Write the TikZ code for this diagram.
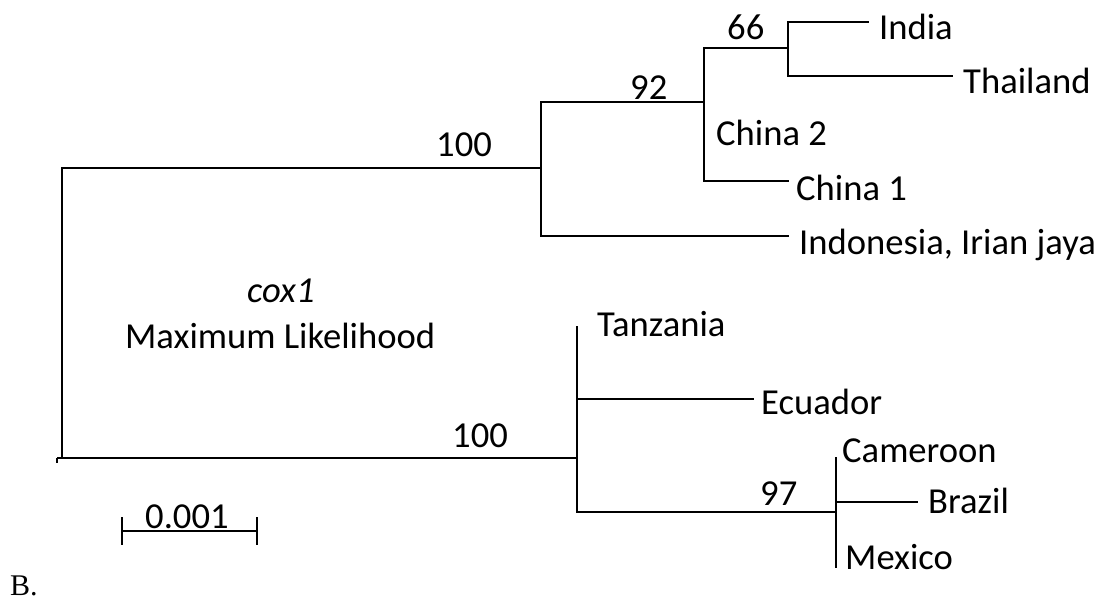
\documentclass[tikz,border=0pt]{standalone}
\usepackage{fontspec}
\setmainfont{Carlito}
\newfontfamily\serifB{Liberation Serif}
\begin{document}
\begin{tikzpicture}[x=1pt,y=-1pt,
  br/.style={line width=2.8pt,line cap=rect},
  lab/.style={anchor=base west,inner sep=0pt,font=\fontsize{36.6}{40}\selectfont},
  boot/.style={anchor=base west,inner sep=0pt,font=\fontsize{36.6}{40}\selectfont}]
\useasboundingbox (0,0) rectangle (1108,600);
% internal node coordinates
\coordinate (r1) at (62,168);
\coordinate (r2) at (62,458);
\coordinate (A1) at (541,102);
\coordinate (A2) at (541,168);
\coordinate (A3) at (541,236);
\coordinate (N92a) at (704,48);
\coordinate (N92b) at (704,102);
\coordinate (N92c) at (704,181);
\coordinate (N66a) at (788,22);
\coordinate (N66b) at (788,48);
\coordinate (N66c) at (788,76);
\coordinate (B1) at (577,327);
\coordinate (B2) at (577,399);
\coordinate (B3) at (577,458);
\coordinate (B4) at (577,512);
\coordinate (N97a) at (836,458);
\coordinate (N97b) at (836,502);
\coordinate (N97c) at (836,512);
\coordinate (N97d) at (836,567);
% tips
\coordinate (tIndia) at (868,22);
\coordinate (tThai) at (952,76);
\coordinate (tChina1) at (788,181);
\coordinate (tIndo) at (788,236);
\coordinate (tEcu) at (753,399);
\coordinate (tBra) at (917,502);
\coordinate (r0) at (57,458);
\coordinate (r0t) at (57,463);
% scale bar
\coordinate (s1) at (122,531);
\coordinate (s2) at (257,531);
\coordinate (s1t) at (122,517);
\coordinate (s1b) at (122,545);
\coordinate (s2t) at (257,517);
\coordinate (s2b) at (257,545);

% branches
\draw[br] (A2) -- (r1) -- (r2);
\draw[br,line cap=butt] (r0) -- (B3);
\draw[br,line cap=butt] (r0) -- (r0t);
\draw[br] (A1) -- (A3);
\draw[br] (A1) -- (N92b);
\draw[br] (A3) -- (tIndo);
\draw[br] (N92a) -- (N92c);
\draw[br] (N92a) -- (N66b);
\draw[br] (N92c) -- (tChina1);
\draw[br] (N66a) -- (N66c);
\draw[br] (N66a) -- (tIndia);
\draw[br] (N66c) -- (tThai);
\draw[br] (B1) -- (B4);
\draw[br] (B2) -- (tEcu);
\draw[br] (B4) -- (N97c);
\draw[br] (N97a) -- (N97d);
\draw[br] (N97b) -- (tBra);
% scale bar
\draw[br,line cap=butt] (s1) -- (s2);
\draw[br,line cap=butt] (s1t) -- (s1b);
\draw[br,line cap=butt] (s2t) -- (s2b);

% tip labels
\node[lab] (India) at (879,39) {India};
\node[lab] (Thailand) at (963,93) {Thailand};
\node[lab] (China2) at (716,145) {China 2};
\node[lab] (China1) at (796,200) {China 1};
\node[lab] (Indo) at (799,254) {Indonesia, Irian jaya};
\node[lab] (Tanz) at (597,336) {Tanzania};
\node[lab] (Ecu) at (761,414) {Ecuador};
\node[lab] (Cam) at (842,462) {Cameroon};
\node[lab] (Bra) at (928,513) {Brazil};
\node[lab] (Mex) at (845,569) {Mexico};
% support values
\node[boot] (b66) at (727,39) {66};
\node[boot] (b92) at (630,99) {92};
\node[boot] (b100a) at (436,156) {100};
\node[boot] (b100b) at (452,447) {100};
\node[boot] (b97) at (760,505) {97};
% titles
\node[lab] (gene) at (247,302) {\itshape cox1};
\node[lab] (meth) at (125,348) {Maximum Likelihood};
\node[lab] (scale) at (145,528) {0.001};
\node[anchor=base west,inner sep=0pt,font=\serifB\fontsize{30}{34}\selectfont] (panel) at (10,595) {B.};
\end{tikzpicture}
\end{document}
